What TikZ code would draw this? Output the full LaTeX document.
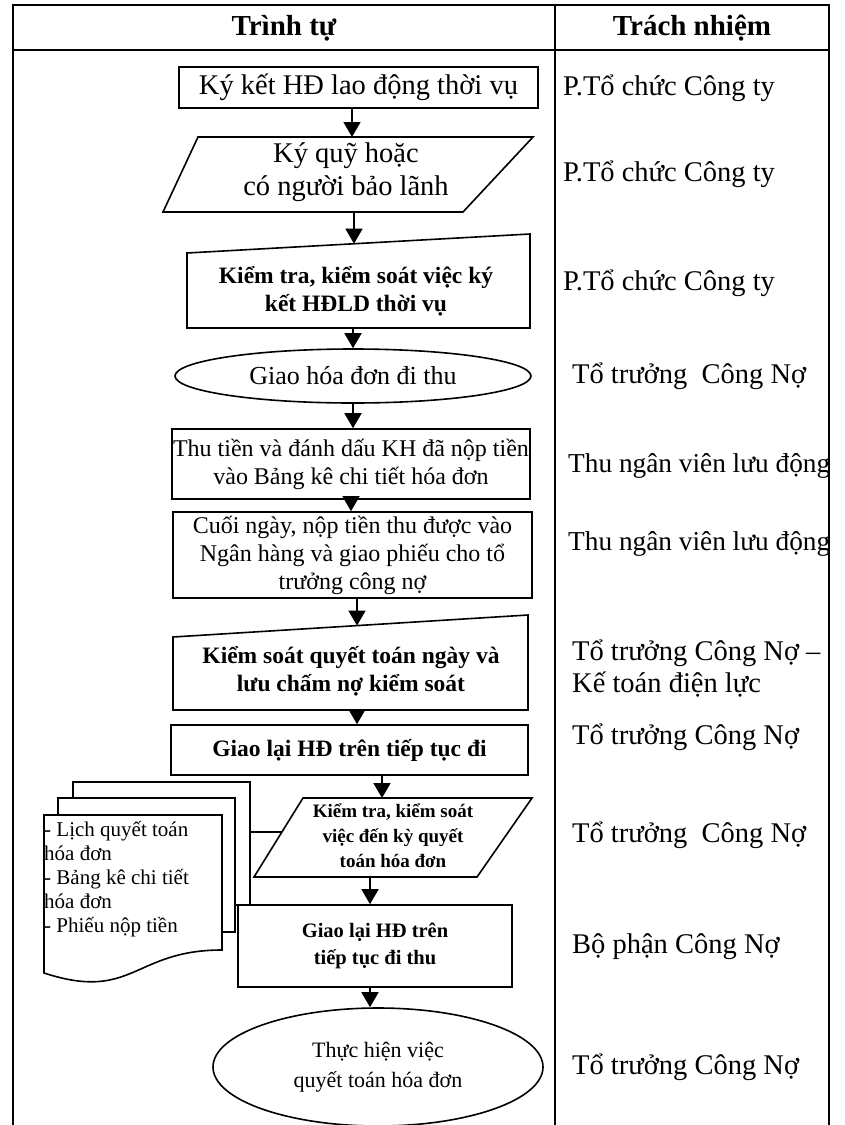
\documentclass[tikz,border=0pt]{standalone}
\usepackage{fontspec}
\setmainfont{Liberation Serif}
\usetikzlibrary{arrows.meta,shapes.geometric}
\newcommand\myfH{\fontsize{29}{33}\selectfont\bfseries}
\newcommand\myfR{\fontsize{28.5}{32}\selectfont}
\newcommand\myfRs{\fontsize{27.3}{32}\selectfont}
\newcommand\myfA{\fontsize{28.5}{33}\selectfont}
\newcommand\myfE{\fontsize{26}{30}\selectfont}
\newcommand\myfM{\fontsize{24}{28}\selectfont}
\newcommand\myfB{\fontsize{23.5}{28}\selectfont\bfseries}
\newcommand\myfS{\fontsize{19}{25}\selectfont\bfseries}
\newcommand\myfT{\fontsize{20.5}{27}\selectfont\bfseries}
\newcommand\myfU{\fontsize{22}{30}\selectfont}
\newcommand\myfD{\fontsize{21}{24}\selectfont}
\begin{document}
\begin{tikzpicture}[x=1pt,y=-1pt,
  frame/.style={line width=2pt},
  shp/.style={draw,line width=1.6pt,fill=white},
  box/.style={shp,inner sep=0pt,align=center},
  oval/.style={shp,ellipse,inner sep=0pt,align=center},
  txt/.style={inner sep=0pt,align=center},
  arr/.style={line width=1.6pt,-{Triangle[width=17pt,length=15pt]}},
  resp/.style={inner sep=0pt,anchor=west,align=left,font=\myfR},
  link/.style={line width=1.6pt}]
\useasboundingbox (0,0) rectangle (845,1125);
\fill[white] (0,0) rectangle (845,1125);
% table
\draw[frame] (13,1125) -- (13,5) -- (829,5) -- (829,1125);
\draw[frame] (13,50) -- (829,50);
\draw[frame] (555,5) -- (555,1125);
\node[txt,font=\myfH] (h1) at (284,28) {Trình tự};
\node[txt,font=\myfH] (h2) at (692,28) {Trách nhiệm};
% responsibilities
\node[resp] (r1) at (563,88) {P.Tổ chức Công ty};
\node[resp] (r2) at (563,174) {P.Tổ chức Công ty};
\node[resp] (r3) at (563,283) {P.Tổ chức Công ty};
\node[resp] (r4) at (572,376) {Tổ trưởng\ \ Công Nợ};
\node[resp,font=\myfRs] (r5) at (568,466) {Thu ngân viên lưu động};
\node[resp,font=\myfRs] (r6) at (568,544) {Thu ngân viên lưu động};
\node[resp] (r7) at (572,669) {Tổ trưởng Công Nợ –\\Kế toán điện lực};
\node[resp] (r8) at (572,737) {Tổ trưởng Công Nợ};
\node[resp] (r9) at (572,835) {Tổ trưởng\ \ Công Nợ};
\node[resp] (r10) at (572,947) {Bộ phận Công Nợ};
\node[resp] (r11) at (572,1067) {Tổ trưởng Công Nợ};
% 1
\node[box,minimum width=359pt,minimum height=41pt,font=\myfA] (n1) at (358.5,87.5) {Ký kết HĐ lao động thời vụ};
% 2 slanted input
\draw[shp] (198,137) -- (533,137) -- (463,212) -- (163,212) -- cycle;
\node[txt,font=\myfA] (n2) at (346,172) {Ký quỹ hoặc\\có người bảo lãnh};
\coordinate (n2t) at (352,137);
\coordinate (n2b) at (354,212);
% 3 manual input
\draw[shp] (187,253) -- (530,234) -- (530,328) -- (187,328) -- cycle;
\node[txt,font=\myfB] (n3) at (356,291) {Kiểm tra, kiểm soát việc ký\\kết HĐLD thời vụ};
\coordinate (n3t) at (354,243.7);
\coordinate (n3b) at (353,328);
% 4 ellipse
\node[oval,minimum width=356pt,minimum height=54pt,font=\myfE] (n4) at (353,376) {Giao hóa đơn đi thu};
% 5
\node[box,minimum width=358pt,minimum height=70pt,font=\myfM] (n5) at (351,464) {Thu tiền và đánh dấu KH đã nộp tiền\\vào Bảng kê chi tiết hóa đơn};
% 6
\node[box,minimum width=359pt,minimum height=86pt,font=\myfM] (n6) at (352.5,555) {Cuối ngày, nộp tiền thu được vào\\Ngân hàng và giao phiếu cho tổ\\trưởng công nợ};
% 7 manual input
\draw[shp] (173,637) -- (528,615) -- (528,710) -- (173,710) -- cycle;
\node[txt,font=\myfB] (n7) at (351,671) {Kiểm soát quyết toán ngày và\\lưu chấm nợ kiểm soát};
\coordinate (n7t) at (357,625.6);
\coordinate (n7b) at (357,710);
% 8
\node[box,minimum width=357pt,minimum height=50pt,font=\myfB] (n8) at (349.5,750) {Giao lại HĐ trên tiếp tục đi};
% document stack
\draw[shp] (73,782) rectangle (250,905);
\draw[shp] (58,798) rectangle (235,932);
\draw[shp] (44,815) -- (222,815) -- (222,950) .. controls (133,950) and (133,1002) .. (44,973) -- cycle;
\node[inner sep=0pt,anchor=west,align=left,font=\myfD] (doc) at (44,879) {- Lịch quyết toán\\hóa đơn\\- Bảng kê chi tiết\\hóa đơn\\- Phiếu nộp tiền};
\coordinate (docr) at (250,832);
% 9 slanted input
\draw[shp] (303,798) -- (532,798) -- (477,877) -- (254,877) -- cycle;
\node[txt,font=\myfS] (n9) at (393,836) {Kiểm tra, kiểm soát\\việc đến kỳ quyết\\toán hóa đơn};
\coordinate (n9t) at (382,798);
\coordinate (n9b) at (370,877);
\coordinate (n9l) at (281.9,832);
% 10
\node[box,minimum width=274pt,minimum height=82pt,font=\myfT] (n10) at (375,946) {Giao lại HĐ trên\\tiếp tục đi thu};
% 11
\node[oval,minimum width=330pt,minimum height=118pt,font=\myfU] (n11) at (378,1067) {Thực hiện việc\\quyết toán hóa đơn};
% connectors
\draw[arr] (n1.south -| n2t) -- (n2t);
\draw[arr] (n2b) -- (n3t);
\draw[arr] (n3b) -- (n4.north);
\draw[arr] (n4.south) -- (n4.south |- n5.north);
\draw[arr] (n5.south) -- (n5.south |- n6.north);
\draw[arr] (n6.south -| n7t) -- (n7t);
\draw[arr] (n7b) -- (n7b |- n8.north);
\draw[arr] (n8.south -| n9t) -- (n9t);
\draw[arr] (n9b) -- (n9b |- n10.north);
\draw[arr] (n10.south -| n9b) -- (n9b |- n11.north);
\draw[link] (docr) -- (n9l);
\end{tikzpicture}
\end{document}
